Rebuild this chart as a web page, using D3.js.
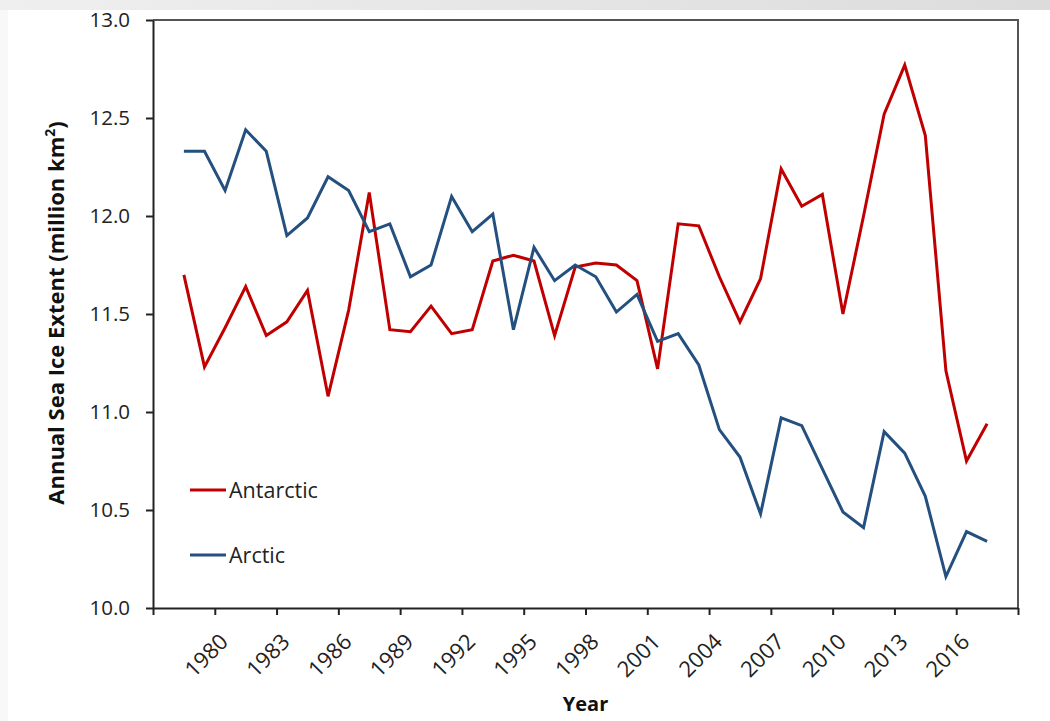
<!DOCTYPE html>
<html>
<head>
<meta charset="utf-8">
<script src="https://cdn.jsdelivr.net/npm/d3@7"></script>
<style>
  body { margin: 0; background: #fff; }
  svg { display: block; }
</style>
</head>
<body>
<div id="chart"></div>
<script>
// =============
// Data
// =============
// category slots on the x axis (first and last are empty)
const categories = d3.range(1978, 2020);
const years = d3.range(1979, 2019);
const tickYears = [1980, 1983, 1986, 1989, 1992, 1995, 1998, 2001, 2004, 2007, 2010, 2013, 2016];
const yTicks = [10.0, 10.5, 11.0, 11.5, 12.0, 12.5, 13.0];

const antarctic = [11.70, 11.23, 11.43, 11.64, 11.39, 11.46, 11.62, 11.08, 11.52, 12.12,
                   11.42, 11.41, 11.54, 11.40, 11.42, 11.77, 11.80, 11.77, 11.39, 11.74,
                   11.76, 11.75, 11.67, 11.22, 11.96, 11.95, 11.69, 11.46, 11.68, 12.24,
                   12.05, 12.11, 11.50, 12.00, 12.52, 12.77, 12.41, 11.21, 10.75, 10.94];
const arctic = [12.33, 12.33, 12.13, 12.44, 12.33, 11.90, 11.99, 12.20, 12.13, 11.92,
                11.96, 11.69, 11.75, 12.10, 11.92, 12.01, 11.42, 11.84, 11.67, 11.75,
                11.69, 11.51, 11.60, 11.36, 11.40, 11.24, 10.91, 10.77, 10.48, 10.97,
                10.93, 10.71, 10.49, 10.41, 10.90, 10.79, 10.57, 10.16, 10.39, 10.34];

const series = [
  {name: "Antarctic", color: "#c00000", values: antarctic},
  {name: "Arctic", color: "#24507f", values: arctic}
];

// dimensions
const width = 1050, height = 721;
const plotLeft = 153, plotRight = 1018, plotTop = 20, plotBottom = 608;
const font = "'Open Sans', sans-serif";

const svg = d3.select("#chart")
  .append("svg")
    .attr("width", width)
    .attr("height", height);

// page background: grey strip on top, faint one on the left
const grad = svg.append("defs").append("linearGradient").attr("id", "topgrad");
grad.append("stop").attr("offset", "0%").attr("stop-color", "#efefef");
grad.append("stop").attr("offset", "100%").attr("stop-color", "#dcdcdc");
svg.append("rect").attr("x", 0).attr("y", 0).attr("width", width).attr("height", 10).attr("fill", "url(#topgrad)");
svg.append("rect").attr("x", 0).attr("y", 10).attr("width", 8).attr("height", height - 10).attr("fill", "#f8f8f8");

// scales
const x = d3.scaleBand()
  .domain(categories)
  .range([plotLeft, plotRight]);

const xSlots = d3.scaleLinear()
  .domain([0, categories.length])
  .range([plotLeft, plotRight]);

const y = d3.scaleLinear()
  .domain([10, 13])
  .range([plotBottom, plotTop]);

// plot frame (top and right)
svg.append("path")
  .attr("d", `M${plotLeft},${plotTop}H${plotRight}V${plotBottom}`)
  .attr("fill", "none")
  .attr("stroke", "#555")
  .attr("stroke-width", 2);

// y axis
const yAxis = svg.append("g")
  .attr("transform", `translate(${plotLeft},0)`)
  .call(d3.axisLeft(y).tickValues(yTicks).tickFormat(d3.format(".1f")).tickSizeInner(7).tickSizeOuter(0).tickPadding(16));

// x axis: tick marks every 3 slots
const xTickAxis = svg.append("g")
  .attr("transform", `translate(0,${plotBottom})`)
  .call(d3.axisBottom(xSlots).tickValues(d3.range(0, categories.length + 1, 3)).tickFormat("").tickSizeInner(7).tickSizeOuter(0));

// x axis labels at category centres (band axis centres them), rotated
const xLabelAxis = svg.append("g")
  .attr("transform", `translate(0,${plotBottom})`)
  .call(d3.axisBottom(x).tickValues(tickYears).tickSize(0));
xLabelAxis.select(".domain").remove();

[yAxis, xTickAxis, xLabelAxis].forEach(function(g) {
  g.selectAll(".domain, line").attr("stroke", "#222").attr("stroke-width", 2);
  g.selectAll("text").attr("font-family", font).attr("font-size", 20.5).attr("fill", "#222");
});

xLabelAxis.selectAll("text")
  .attr("x", 0).attr("y", 0).attr("dy", 0)
  .attr("font-size", 22)
  .attr("text-anchor", "end")
  .attr("transform", "translate(25,35) rotate(-45)");

// lines
const line = d3.line()
  .x(function(d, i) { return x(years[i]) + x.bandwidth() / 2; })
  .y(function(d) { return y(d); });

svg.selectAll(".series")
  .data(series)
  .enter()
  .append("path")
    .attr("class", "series")
    .attr("d", function(d) { return line(d.values); })
    .attr("fill", "none")
    .attr("stroke", function(d) { return d.color; })
    .attr("stroke-width", 3)
    .attr("stroke-linejoin", "miter");

// legend
const legend = svg.selectAll(".legend")
  .data(series)
  .enter()
  .append("g")
    .attr("class", "legend")
    .attr("transform", function(d, i) { return `translate(190,${490 + i * 65})`; });
legend.append("line")
  .attr("x1", 0).attr("x2", 36)
  .attr("stroke", function(d) { return d.color; })
  .attr("stroke-width", 3);
legend.append("text")
  .attr("x", 39)
  .attr("dy", "0.35em")
  .attr("font-family", font)
  .attr("font-size", 21.5)
  .attr("fill", "#222")
  .text(function(d) { return d.name; });

// axis titles
const yTitle = svg.append("text")
  .attr("transform", "translate(64,313) rotate(-90)")
  .attr("text-anchor", "middle")
  .attr("font-family", font)
  .attr("font-size", 22)
  .attr("font-weight", "bold")
  .attr("fill", "#111");
yTitle.append("tspan").text("Annual Sea Ice Extent (million km");
yTitle.append("tspan").attr("font-size", 14).attr("dy", -9).text("2");
yTitle.append("tspan").attr("dy", 9).text(")");

svg.append("text")
  .attr("x", (plotLeft + plotRight) / 2)
  .attr("y", 711)
  .attr("text-anchor", "middle")
  .attr("font-family", font)
  .attr("font-size", 20)
  .attr("font-weight", "bold")
  .attr("fill", "#111")
  .text("Year");
</script>
</body>
</html>
